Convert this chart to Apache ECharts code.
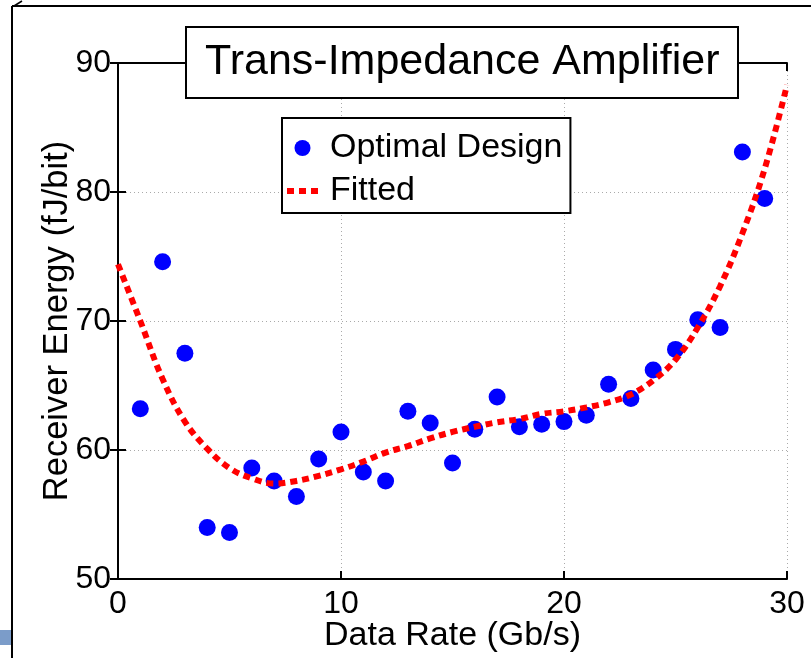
<!DOCTYPE html>
<html>
<head>
<meta charset="utf-8">
<script src="https://cdn.jsdelivr.net/npm/echarts@6/dist/echarts.min.js"></script>
<style>html,body{margin:0;padding:0;background:#fff;}#chart{width:811px;height:658px;}</style>
</head>
<body>
<div id="chart"></div>
<script>
// Data
var dataRates = [1,2,3,4,5,6,7,8,9,10,11,12,13,14,15,16,17,18,19,20,21,22,23,24,25,26,27,28,29];
var optimalEnergy = [63.2,74.6,67.5,54.0,53.6,58.6,57.6,56.4,59.3,61.4,58.3,57.6,63.0,62.1,59.0,61.6,64.1,61.8,62.0,62.2,62.7,65.1,64.0,66.2,67.8,70.1,69.5,83.1,79.5];
var fitRates = [0,1,2,3,4,5,6,7,8,9,10,11,12,13,14,15,16,17,18,19,20,21,22,23,24,25,26,27,28,29,30];
var fitEnergy = [74.4,70.0,65.5,62.2,60.1,58.6,57.8,57.4,57.6,58.0,58.5,59.1,59.8,60.3,60.9,61.4,61.8,62.15,62.4,62.8,63.0,63.3,63.7,64.3,65.4,67.0,69.5,72.7,76.8,81.8,88.3];
var xTicks = [0,10,20,30];
var yTicks = [50,60,70,80,90];
var titleText = 'Trans-Impedance Amplifier';
var seriesNames = ['Optimal Design','Fitted'];
var xName = 'Data Rate (Gb/s)';
var yName = 'Receiver Energy (fJ/bit)';

var FONT = '"Liberation Sans", Arial, Helvetica, sans-serif';
var chart = echarts.init(document.getElementById('chart'), null, {renderer:'canvas'});

function pairs(xs, ys){ return xs.map(function(x,i){ return [x, ys[i]]; }); }

var axisLineStyle = {show:true, lineStyle:{color:'#000', width:2}};
var tickStyle = {show:true, inside:true, length:8, lineStyle:{color:'#000', width:2}};
var opt = {
  backgroundColor:'#fff',
  animation:false,
  title:{
    text:titleText, left:186, top:27,
    padding:[12,19,12,19],
    borderColor:'#000', borderWidth:2, backgroundColor:'#fff',
    textStyle:{fontFamily:FONT, fontSize:43, fontWeight:'normal', color:'#000', lineHeight:47}
  },
  legend:{
    orient:'vertical', left:282, top:118,
    padding:[12,8,4,5], itemGap:7,
    itemWidth:31, itemHeight:16,
    borderColor:'#000', borderWidth:2, backgroundColor:'#fff',
    textStyle:{fontFamily:FONT, fontSize:34, color:'#000', lineHeight:36, padding:[0,0,0,7]},
    data:[
      {name:seriesNames[0], icon:'circle'},
      {name:seriesNames[1], icon:'path://M0,0h7v6h-7z M12,0h7v6h-7z M24,0h7v6h-7z', itemStyle:{color:'#ff0000'}}
    ]
  },
  grid:{left:118, right:24, top:63, bottom:79, containLabel:false, outerBoundsMode:'none'},
  xAxis:[{
    type:'value', min:0, max:30, interval:10, position:'bottom',
    axisLine:axisLineStyle, axisTick:tickStyle,
    axisLabel:{fontFamily:FONT, fontSize:32, color:'#000', margin:9,
      formatter:function(v){ return xTicks.indexOf(v)>=0 ? String(v) : ''; }},
    splitLine:{show:true, lineStyle:{color:'#aaa', type:[1,3], width:1}},
    name:xName, nameLocation:'middle', nameGap:40, nameMoveOverlap:false,
    nameTextStyle:{fontFamily:FONT, fontSize:34, color:'#000'}
  },{
    type:'value', min:0, max:30, interval:10, position:'top',
    axisLine:axisLineStyle, axisTick:tickStyle,
    axisLabel:{show:false}, splitLine:{show:false}
  }],
  yAxis:[{
    type:'value', min:50, max:90, interval:10, position:'left',
    axisLine:axisLineStyle, axisTick:tickStyle,
    axisLabel:{fontFamily:FONT, fontSize:32, color:'#000', margin:7,
      formatter:function(v){ return yTicks.indexOf(v)>=0 ? String(v) : ''; }},
    splitLine:{show:true, lineStyle:{color:'#aaa', type:[1,3], width:1}},
    name:yName, nameLocation:'middle', nameGap:43, nameMoveOverlap:false,
    nameTextStyle:{fontFamily:FONT, fontSize:34.5, color:'#000'}
  },{
    type:'value', min:50, max:90, interval:10, position:'right',
    axisLine:axisLineStyle, axisTick:tickStyle,
    axisLabel:{show:false}, splitLine:{show:false}
  }],
  series:[{
    name:seriesNames[0], type:'scatter', xAxisIndex:0, yAxisIndex:0,
    data:pairs(dataRates, optimalEnergy),
    symbol:'circle', symbolSize:17,
    itemStyle:{color:'#0000ff', opacity:1}, z:3
  },{
    name:seriesNames[1], type:'line', xAxisIndex:0, yAxisIndex:0,
    data:pairs(fitRates, fitEnergy),
    smooth:0.4, showSymbol:false, symbol:'none',
    lineStyle:{color:'#ff0000', width:6, type:[7,5], cap:'butt'},
    itemStyle:{color:'#ff0000'}, z:4
  }],
  graphic:[
    {type:'line', shape:{x1:12, y1:6, x2:811, y2:6}, style:{stroke:'#000', lineWidth:2}, silent:true},
    {type:'line', shape:{x1:12, y1:6, x2:12, y2:658}, style:{stroke:'#000', lineWidth:2}, silent:true},
    {type:'line', shape:{x1:14, y1:6, x2:22, y2:1}, style:{stroke:'#000', lineWidth:1.5}, silent:true},
    {type:'rect', shape:{x:0, y:630, width:11, height:15}, style:{fill:'#7b9cc9'}, silent:true}
  ]
};
chart.setOption(opt);
</script>
</body>
</html>
